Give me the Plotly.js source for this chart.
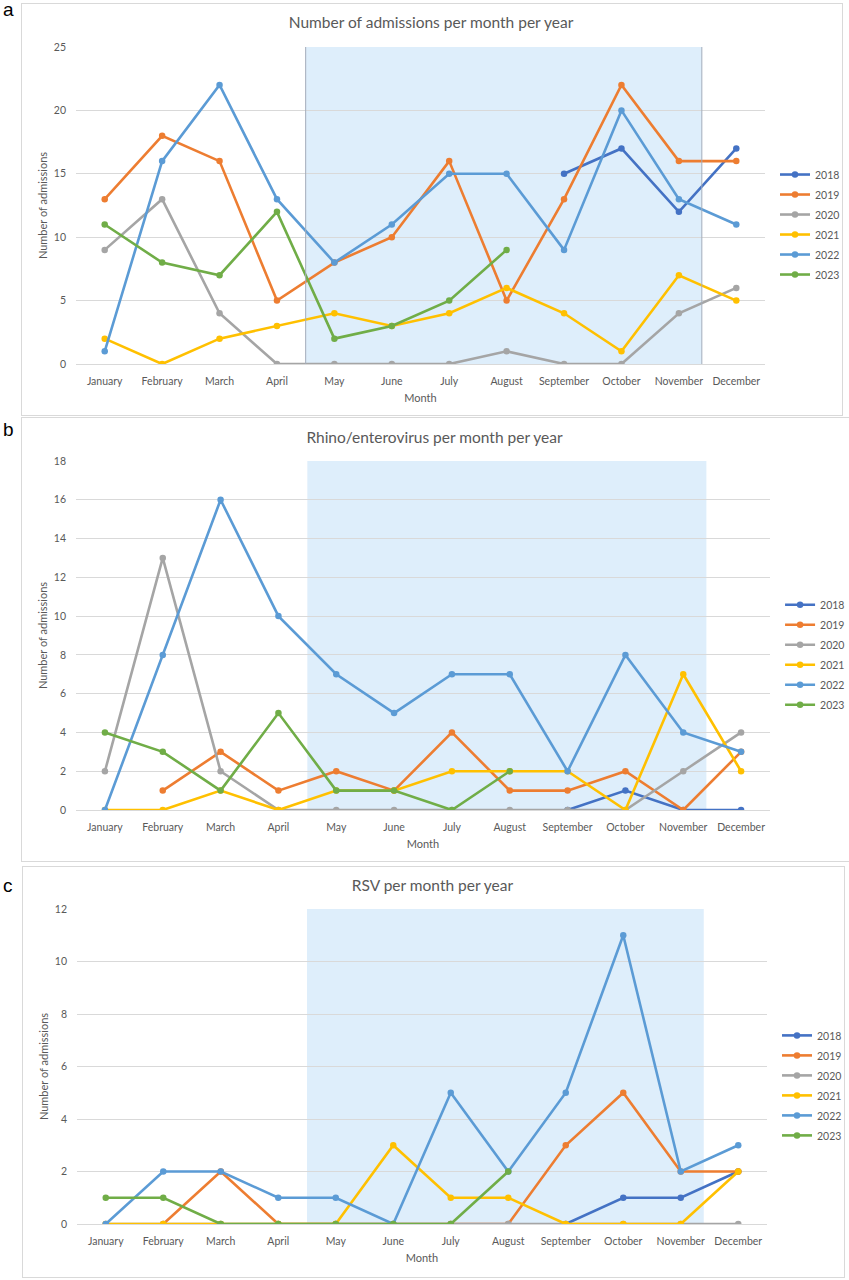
<!DOCTYPE html>
<html>
<head>
<meta charset="utf-8">
<script src="https://cdn.plot.ly/plotly-3.0.1.min.js"></script>
<style>
  html, body { margin: 0; padding: 0; background: #fff; }
  body { width: 849px; height: 1280px; position: relative; overflow: hidden; }
  .panel { position: absolute; border: 1px solid #d9d9d9; box-sizing: border-box; }
  .tag { position: absolute; left: 3px; font-family: 'Liberation Sans', Arial, sans-serif;
         font-size: 19px; line-height: 19px; color: #000; }
</style>
</head>
<body>
<div class="tag" style="top:0px;">a</div>
<div class="tag" style="top:420px;">b</div>
<div class="tag" style="top:876px;">c</div>
<div id="panelA" class="panel" style="left:21px; top:3px; width:822px; height:413px;"></div>
<div id="panelB" class="panel" style="left:21px; top:417px; width:829px; height:445px;"></div>
<div id="panelC" class="panel" style="left:22px; top:866px; width:823px; height:412px;"></div>
<script>
// ── data ─────────────────────────────────────────────────────────
const MONTHS = ['January', 'February', 'March', 'April', 'May', 'June',
  'July', 'August', 'September', 'October', 'November', 'December'];
const YEARS = ['2018', '2019', '2020', '2021', '2022', '2023'];

// (a) all admissions
const adm2018 = [null, null, null, null, null, null, null, null, 15, 17, 12, 17];
const adm2019 = [13, 18, 16, 5, 8, 10, 16, 5, 13, 22, 16, 16];
const adm2020 = [9, 13, 4, 0, 0, 0, 0, 1, 0, 0, 4, 6];
const adm2021 = [2, 0, 2, 3, 4, 3, 4, 6, 4, 1, 7, 5];
const adm2022 = [1, 16, 22, 13, 8, 11, 15, 15, 9, 20, 13, 11];
const adm2023 = [11, 8, 7, 12, 2, 3, 5, 9, null, null, null, null];

// (b) rhino/enterovirus
const rhi2018 = [null, null, null, null, null, null, null, null, 0, 1, 0, 0];
const rhi2019 = [null, 1, 3, 1, 2, 1, 4, 1, 1, 2, 0, 3];
const rhi2020 = [2, 13, 2, 0, 0, 0, 0, 0, 0, 0, 2, 4];
const rhi2021 = [0, 0, 1, 0, 1, 1, 2, 2, 2, 0, 7, 2];
const rhi2022 = [0, 8, 16, 10, 7, 5, 7, 7, 2, 8, 4, 3];
const rhi2023 = [4, 3, 1, 5, 1, 1, 0, 2, null, null, null, null];

// (c) RSV
const rsv2018 = [null, null, null, null, null, null, null, null, 0, 1, 1, 2];
const rsv2019 = [null, 0, 2, 0, 0, 0, 0, 0, 3, 5, 2, 2];
const rsv2020 = [0, 0, 0, 0, 0, 0, 0, 0, 0, 0, 0, 0];
const rsv2021 = [0, 0, 0, 0, 0, 3, 1, 1, 0, 0, 0, 2];
const rsv2022 = [0, 2, 2, 1, 1, 0, 5, 2, 5, 11, 2, 3];
const rsv2023 = [1, 1, 0, 0, 0, 0, 0, 2, null, null, null, null];

// shaded season, in category units
const SEASON = [3.5, 10.4];

// ── style ────────────────────────────────────────────────────────
const COLORS = ['#4472C4', '#ED7D31', '#A5A5A5', '#FFC000', '#5B9BD5', '#70AD47'];
const FONT = "Lato, 'Open Sans', sans-serif";
const TEXT = '#595959';
const GRID = '#d9d9d9';
const SHADE = '#deeefb';

const PLOTLY_CONFIG = { displayModeBar: false, staticPlot: true };

function renderPanel(id, title, series, yMax, opts) {
  const el = document.getElementById(id);
  const W = el.clientWidth, H = el.clientHeight;

  const traces = series.map((ys, i) => ({
    x: MONTHS, y: ys,
    type: 'scatter', mode: 'lines+markers',
    name: YEARS[i],
    legendgroup: YEARS[i],
    line: { color: COLORS[i], width: 2.6 },
    marker: { color: COLORS[i], size: 6.5 },
    connectgaps: false,
  }));

  const shapes = [{
    type: 'rect', xref: 'x', yref: 'y',
    x0: SEASON[0], x1: SEASON[1], y0: 0, y1: yMax,
    fillcolor: SHADE, line: { width: 0 }, layer: 'below',
  }];
  if (opts.edges) {
    SEASON.forEach(x => shapes.push({
      type: 'line', xref: 'x', yref: 'y',
      x0: x, x1: x, y0: 0, y1: yMax,
      line: { color: '#a3adbb', width: 1 }, layer: 'above',
    }));
  }

  const layout = {
    width: W - 2, height: H - 2,
    paper_bgcolor: 'rgba(0,0,0,0)',
    plot_bgcolor: 'rgba(0,0,0,0)',
    font: { family: FONT, color: TEXT, size: 10 },
    margin: { ...opts.margin, autoexpand: false },
    title: {
      text: title, font: { family: FONT, size: 15.5, color: TEXT },
      xref: 'container', x: 0.5, xanchor: 'center',
      yref: 'container', y: 1 - opts.titleY / (H - 2), yanchor: 'middle',
    },
    xaxis: {
      range: [-0.5, 11.5],
      showgrid: false, zeroline: false,
      showline: true, linecolor: GRID, linewidth: 1,
      ticks: '', ticklabelstandoff: 7,
      tickfont: { family: FONT, size: 10.5, color: TEXT },
      title: { text: 'Month', font: { family: FONT, size: 11, color: TEXT }, standoff: 8 },
    },
    yaxis: {
      range: [0, yMax], dtick: opts.dtick,
      showgrid: true, gridcolor: GRID, gridwidth: 1,
      zeroline: false, showline: false, ticks: '',
      ticklabelstandoff: 9,
      tickfont: { family: FONT, size: 10.5, color: TEXT },
      title: { text: 'Number of admissions', font: { family: FONT, size: 11, color: TEXT }, standoff: 3 },
    },
    legend: {
      x: 1.0145, xanchor: 'left',
      y: opts.legendY, yanchor: 'middle',
      font: { family: FONT, size: 10.5, color: TEXT },
      tracegroupgap: 1,
      bgcolor: 'rgba(0,0,0,0)',
    },
    shapes,
  };

  Plotly.newPlot(id, traces, layout, PLOTLY_CONFIG);
}

renderPanel('panelA', 'Number of admissions per month per year',
  [adm2018, adm2019, adm2020, adm2021, adm2022, adm2023], 25,
  { dtick: 5, edges: true, titleY: 19,
    margin: { l: 54, r: 75, t: 43, b: 49 }, legendY: 0.44 });

renderPanel('panelB', 'Rhino/enterovirus per month per year',
  [rhi2018, rhi2019, rhi2020, rhi2021, rhi2022, rhi2023], 18,
  { dtick: 2, edges: false, titleY: 20,
    margin: { l: 54, r: 77, t: 43, b: 49 }, legendY: 0.445 });

renderPanel('panelC', 'RSV per month per year',
  [rsv2018, rsv2019, rsv2020, rsv2021, rsv2022, rsv2023], 12,
  { dtick: 2, edges: false, titleY: 19,
    margin: { l: 54, r: 75, t: 42, b: 51 }, legendY: 0.44 });
</script>
</body>
</html>
